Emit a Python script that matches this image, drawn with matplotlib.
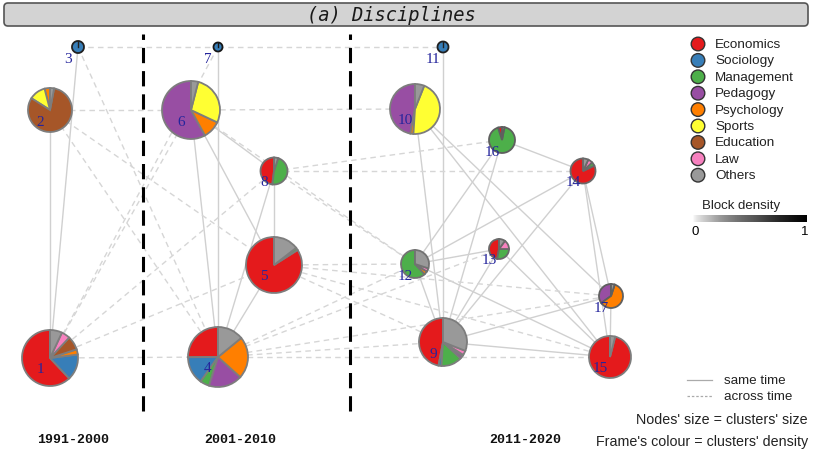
import numpy as np
import matplotlib
matplotlib.use('Agg')
import matplotlib.pyplot as plt
from matplotlib.patches import Circle, FancyBboxPatch

W, H = 813, 456

disciplines = ['Economics', 'Sociology', 'Management', 'Pedagogy', 'Psychology',
               'Sports', 'Education', 'Law', 'Others']
colours = ['#E41A1C', '#377EB8', '#4DAF4A', '#984EA3', '#FF7F00',
           '#FFFF33', '#A65628', '#F781BF', '#999999']

periods = ['1991-2000', '2001-2010', '2011-2020']
period_x = [73, 240, 525]
period_breaks = [143, 350]

# cluster layout (x right, y down from the top edge), radius ~ cluster size
node_x = [50, 50, 78, 218, 274, 191, 218, 274, 443, 415, 443, 415, 499, 583, 610, 502, 611]
node_y = [359, 111, 48, 358, 266, 111, 48, 172, 343, 110, 48, 265, 250, 172, 358, 141, 297]
node_size = [28, 22, 6, 30, 28, 29, 4.5, 13.5, 24, 25, 5.5, 14, 10, 12.5, 21, 13, 12]
density = [0.45, 0.45, 0.85, 0.45, 0.45, 0.45, 0.9, 0.5, 0.45, 0.45, 0.85, 0.5, 0.55, 0.55, 0.45, 0.6, 0.6]

# share of each discipline per cluster, same order as `disciplines`
shares = [
    [62, 15, 0, 0, 3, 0, 8, 5, 7],      # 1
    [0, 0, 0, 0, 4, 12, 81, 0, 3],      # 2
    [0, 100, 0, 0, 0, 0, 0, 0, 0],      # 3
    [25, 15, 5, 18, 22.5, 0, 0, 0, 14], # 4
    [84, 0, 1.5, 0, 0, 0, 0, 0, 14.5],  # 5
    [0, 0, 0, 58, 10, 28, 0, 0, 4],     # 6
    [0, 100, 0, 0, 0, 0, 0, 0, 0],      # 7
    [48, 0, 47, 0, 0, 0, 0, 0, 5],      # 8
    [47, 2, 14, 2, 1, 0, 0, 3, 31],     # 9
    [0, 0, 0, 47, 2, 45, 0, 0, 6],      # 10
    [0, 100, 0, 0, 0, 0, 0, 0, 0],      # 11
    [0, 0, 62, 0, 4, 0, 0, 4, 30],      # 12
    [47, 0, 28, 0, 0, 0, 0, 15, 10],    # 13
    [82, 0, 5, 0, 0, 0, 0, 6, 7],       # 14
    [96, 0, 0, 0, 0, 0, 0, 0, 4],       # 15
    [5, 0, 92, 0, 0, 0, 0, 0, 3],       # 16
    [0, 0, 0, 35, 60, 0, 0, 0, 5],      # 17
]

same_time = [(1, 2), (1, 3), (4, 6), (4, 7), (4, 8), (4, 5), (6, 8), (6, 5), (8, 5),
             (9, 10), (9, 11), (9, 12), (9, 13), (9, 15), (9, 17), (9, 14), (9, 16),
             (10, 15), (10, 17), (12, 13), (12, 14), (12, 16), (12, 15), (13, 15),
             (14, 15), (14, 17), (16, 14), (17, 15)]
across_time = [(3, 7), (7, 11), (2, 6), (6, 10), (8, 14), (8, 16), (1, 4), (1, 6),
               (1, 8), (1, 5), (3, 4), (2, 5), (2, 4), (7, 1), (6, 12), (8, 12),
               (5, 9), (5, 12), (5, 15), (5, 17), (4, 9), (4, 12), (4, 15), (4, 17), (4, 13)]

fig = plt.figure(figsize=(W / 100, H / 100), dpi=100)
ax = fig.add_axes([0, 0, 1, 1])

def pos(k):
    return node_x[k - 1], H - node_y[k - 1]

for a, b in same_time:
    (x0, y0), (x1, y1) = pos(a), pos(b)
    ax.plot([x0, x1], [y0, y1], color='#d0d0d0', lw=1.0, zorder=1)
for a, b in across_time:
    (x0, y0), (x1, y1) = pos(a), pos(b)
    ax.plot([x0, x1], [y0, y1], color='#d6d6d6', lw=1.0, dashes=(4, 3), zorder=1)

# period separators
for xb in period_breaks:
    ax.plot([xb, xb], [H - 412, H - 35], color='black', lw=2.2, dashes=(5, 2.6), zorder=2)

# pies
grey = plt.get_cmap('Greys')
for i, sh in enumerate(shares):
    vals = [v for v in sh if v > 0]
    cols = [colours[j] for j, v in enumerate(sh) if v > 0]
    frame_col = grey(0.25 + 0.75 * density[i])
    cx, cy = pos(i + 1)
    ax.pie(vals, colors=cols, center=(cx, cy), radius=node_size[i], startangle=90,
           counterclock=True, frame=True,
           wedgeprops=dict(edgecolor=frame_col, linewidth=1.3, zorder=3))
    if len(vals) == 1:
        ax.plot([cx, cx], [cy, cy + node_size[i]], color=frame_col, lw=1.0, zorder=4)
    ax.text(cx - 10, cy - 11, str(i + 1), ha='center', va='center', fontsize=11,
            family='Liberation Serif', color='#25259c', zorder=5)

# title bar
ax.add_patch(FancyBboxPatch((4, H - 27), 804, 23, boxstyle='round,pad=0,rounding_size=4',
                            facecolor='#d3d3d3', edgecolor='#555555', lw=1.2, zorder=6))
ax.text(391, H - 15.5, '(a) Disciplines', ha='center', va='center', fontsize=13.5,
        family='DejaVu Sans Mono', style='italic', color='#1a1a1a', zorder=7)

for lab, xp in zip(periods, period_x):
    ax.text(xp, H - 440, lab, ha='center', va='center', fontsize=9.5,
            family='Liberation Mono', fontweight='bold', color='#111111')

# discipline legend
for k, (name, col) in enumerate(zip(disciplines, colours)):
    yk = H - (45 + 16.4 * k)
    ax.add_patch(Circle((698, yk), 6.8, facecolor=col, edgecolor='#333333', lw=1.0, zorder=3))
    ax.text(715, yk, name, ha='left', va='center', fontsize=9.7, family='Liberation Sans', color='#222222')

# block density bar
ax.text(741, H - 206, 'Block density', ha='center', va='center', fontsize=9.5,
        family='Liberation Sans', color='#222222')
grad = np.linspace(0, 1, 256) ** 0.5
ax.imshow(grad[None, :], cmap='Greys', extent=(693, 807, H - 223, H - 216), aspect='auto', zorder=2)
ax.text(695, H - 232, '0', ha='center', va='center', fontsize=9.5, family='Liberation Sans')
ax.text(805, H - 232, '1', ha='center', va='center', fontsize=9.5, family='Liberation Sans')

# edge-type legend and notes
ax.plot([687, 712], [H - 381, H - 381], color='#aaaaaa', lw=0.9)
ax.plot([687, 712], [H - 397, H - 397], color='#aaaaaa', lw=0.9, dashes=(2, 1.5))
ax.text(724, H - 381, 'same time', ha='left', va='center', fontsize=9.6, family='Liberation Sans', color='#222222')
ax.text(724, H - 397, 'across time', ha='left', va='center', fontsize=9.6, family='Liberation Sans', color='#222222')
ax.text(808, H - 420, "Nodes' size = clusters' size", ha='right', va='center', fontsize=10.3,
        family='Liberation Sans', color='#222222')
ax.text(808, H - 442, "Frame's colour = clusters' density", ha='right', va='center', fontsize=10.3,
        family='Liberation Sans', color='#222222')

ax.set_xlim(0, W)
ax.set_ylim(0, H)
ax.set_aspect('equal')
ax.axis('off')

plt.savefig('out.png', dpi=100)
plt.close()
